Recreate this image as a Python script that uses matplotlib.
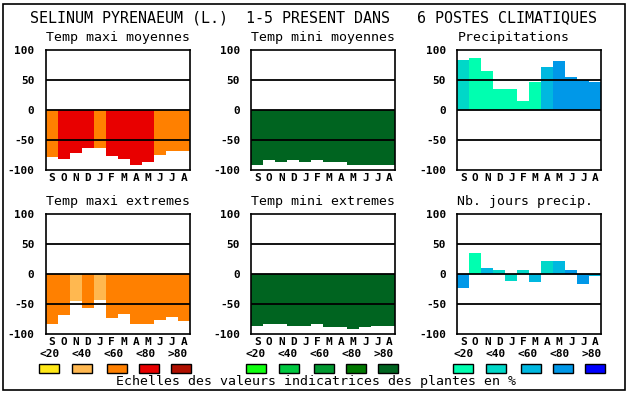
import matplotlib
matplotlib.use("Agg")
import matplotlib.pyplot as plt
from matplotlib.patches import Rectangle

# months (Sept -> Aug)
months = ["S", "O", "N", "D", "J", "F", "M", "A", "M", "J", "J", "A"]

# values (percent scale -100..100) and indicator-class index (0:<20 .. 4:>80)
tmax_moy = [-78, -81, -71, -63, -64, -76, -81, -91, -86, -75, -68, -68]
tmax_moy_cls = [2, 3, 3, 3, 2, 3, 3, 3, 3, 2, 2, 2]

tmin_moy = [-91, -84, -86, -84, -86, -84, -86, -86, -91, -91, -91, -91]
tmin_moy_cls = [4] * 12

precip = [83, 87, 65, 35, 35, 15, 47, 72, 82, 55, 50, 47]
precip_cls = [1, 0, 0, 0, 0, 0, 0, 2, 3, 3, 3, 3]

tmax_ext = [-84, -68, -45, -56, -43, -73, -67, -84, -84, -76, -72, -78]
tmax_ext_cls = [2, 2, 1, 2, 1, 2, 2, 2, 2, 2, 2, 2]

tmin_ext = [-86, -84, -84, -86, -86, -83, -88, -88, -91, -88, -86, -86]
tmin_ext_cls = [4] * 12

nb_jours = [-23, 35, 10, 7, -11, 7, -14, 22, 22, 7, -16, -3]
nb_jours_cls = [3, 0, 2, 1, 1, 1, 2, 1, 2, 3, 3, 2]

scale_labels = ["<20", "<40", "<60", "<80", ">80"]
title = "SELINUM PYRENAEUM (L.)  1-5 PRESENT DANS   6 POSTES CLIMATIQUES"
footer = "Echelles des valeurs indicatrices des plantes en %"

pal_temp_max = ["#FFE818", "#FFB850", "#FF8000", "#E80000", "#B01000"]
pal_temp_min = ["#10FF10", "#00C840", "#009830", "#007800", "#006420"]
pal_water = ["#00FFB0", "#00D8C8", "#00B8E0", "#0098E8", "#0000FF"]

W, H = 630, 394
mono = "DejaVu Sans Mono"


def fx(x):
    return x / W


def fy(y):
    return 1 - y / H


fig = plt.figure(figsize=(6.3, 3.94), dpi=100)
fig.patch.set_facecolor("white")

# outer frame
fig.add_artist(Rectangle((fx(3), fy(390)), fx(622), 386 / H, transform=fig.transFigure,
                         fill=False, edgecolor="black", lw=1.2))

fig.text(fx(314), fy(18), title, ha="center", va="center", family=mono, fontsize=10.8)

panels = [
    (45.7, 50, "Temp maxi moyennes", tmax_moy, tmax_moy_cls, pal_temp_max),
    (251.3, 50, "Temp mini moyennes", tmin_moy, tmin_moy_cls, pal_temp_min),
    (457.3, 50, "Precipitations", precip, precip_cls, pal_water),
    (45.7, 214, "Temp maxi extremes", tmax_ext, tmax_ext_cls, pal_temp_max),
    (251.3, 214, "Temp mini extremes", tmin_ext, tmin_ext_cls, pal_temp_min),
    (457.3, 214, "Nb. jours precip.", nb_jours, nb_jours_cls, pal_water),
]

for left, top, name, vals, cls, pal in panels:
    ax = fig.add_axes([fx(left), fy(top + 120), 144 / W, 120 / H])
    x = range(len(months))
    ax.bar(x, vals, width=1.0, color=[pal[c] for c in cls], linewidth=0, zorder=2)
    for yv in (50, 0, -50):
        ax.axhline(yv, color="black", lw=1.3, zorder=3)
    ax.set_xlim(-0.5, 11.5)
    ax.set_ylim(-100, 100)
    ax.set_xticks(list(x))
    ax.set_xticklabels(months, family=mono, fontweight="bold", fontsize=8)
    ax.set_yticks([100, 50, 0, -50, -100])
    ax.set_yticklabels(["100", "50", "0", "-50", "-100"], family=mono,
                       fontweight="bold", fontsize=8)
    ax.tick_params(length=0, pad=8)
    ax.tick_params(axis="x", pad=2)
    for sp in ax.spines.values():
        sp.set_linewidth(1.2)
    fig.text(fx(left), fy(top - 12), name, ha="left", va="center",
             family=mono, fontsize=9.5)

# legend scales
label_x = [39, 71, 103, 135, 167]
swatch_x = [39, 72, 107, 139, 171]
for g, pal in enumerate([pal_temp_max, pal_temp_min, pal_water]):
    off = 207 * g
    for i, lab in enumerate(scale_labels):
        fig.text(fx(label_x[i] + off), fy(354), lab, ha="left", va="center",
                 family=mono, fontweight="bold", fontsize=8)
        fig.add_artist(Rectangle((fx(swatch_x[i] + off), fy(373)), 20 / W, 9 / H,
                                 transform=fig.transFigure, facecolor=pal[i],
                                 edgecolor="black", lw=1))

fig.text(fx(316), fy(382), footer, ha="center", va="center", family=mono, fontsize=9.5)

fig.savefig("out.png", dpi=100)
